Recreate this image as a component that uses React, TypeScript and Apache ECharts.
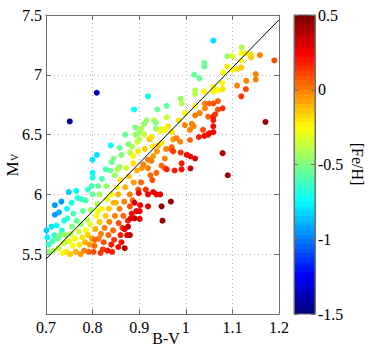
import React, { useEffect, useRef } from 'react';
import * as echarts from 'echarts';

// [B-V, M_V, [Fe/H]], grouped by B-V range
const starsA = [
  [0.701,5.70,-0.85],[0.703,5.64,-0.75],[0.706,5.58,-0.65],[0.708,5.52,-0.5],[0.712,5.73,-0.8],[0.714,5.61,-0.6],[0.716,5.53,-0.4],[0.718,5.66,-0.65],[0.719,5.83,-0.95],[0.719,5.91,-0.95],
  [0.723,5.74,-0.75],[0.725,5.63,-0.55],[0.727,5.55,-0.35],[0.728,5.85,-0.9],[0.733,5.94,-0.95],[0.734,5.70,-0.65],[0.736,5.51,-0.25],[0.738,5.59,-0.35],[0.739,5.78,-0.7],[0.731,5.66,-0.5],
  [0.742,5.66,-0.45],[0.744,5.52,-0.2],[0.746,5.80,-0.65],[0.749,6.02,-0.85],[0.745,5.88,-0.75],[0.741,5.60,-0.35],
];
const starsB = [
  [0.750,5.61,-0.3],[0.752,5.50,-0.15],[0.755,5.93,-0.7],[0.756,5.73,-0.5],[0.758,5.57,-0.25],[0.759,5.84,-0.6],[0.753,5.67,-0.4],[0.751,6.61,-1.45],
  [0.762,5.63,-0.25],[0.764,5.52,-0.1],[0.766,5.78,-0.55],[0.768,5.97,-0.7],[0.770,5.69,-0.35],[0.772,5.58,-0.2],[0.774,5.50,-0.05],[0.776,5.96,-0.65],[0.778,5.64,-0.2],[0.765,6.03,-0.75],[0.775,5.75,-0.45],[0.779,5.86,-0.55],
  [0.782,5.53,0.0],[0.784,5.60,-0.1],[0.786,5.70,-0.25],[0.788,5.79,-0.4],[0.790,5.66,-0.15],[0.792,5.52,0.05],[0.794,5.58,-0.05],[0.796,5.87,-0.45],[0.798,6.07,-0.6],[0.785,5.95,-0.6],[0.790,6.04,-0.65],[0.795,5.75,-0.3],[0.799,5.63,-0.05],
];
const starsC = [
  [0.800,6.14,-0.7],[0.800,6.18,-0.75],[0.800,6.29,-0.8],[0.800,6.00,-0.55],
  [0.802,5.52,0.1],[0.804,5.57,0.05],[0.806,5.71,-0.1],[0.808,5.82,-0.25],[0.810,5.92,-0.4],[0.812,6.07,-0.55],[0.813,5.63,0.0],[0.815,5.77,-0.15],[0.817,5.51,0.15],[0.818,5.67,0.0],[0.820,5.88,-0.25],[0.820,6.13,-0.6],[0.815,6.00,-0.45],[0.809,6.33,-0.8],[0.809,6.85,-1.4],[0.805,5.62,0.05],[0.811,5.86,-0.3],
  [0.822,5.54,0.15],[0.824,5.60,0.1],[0.826,5.72,0.0],[0.828,5.82,-0.15],[0.830,6.07,-0.45],[0.831,5.96,-0.3],[0.832,5.53,0.2],[0.834,5.66,0.05],[0.836,5.77,0.0],[0.838,6.20,-0.55],[0.839,6.41,-0.75],[0.840,5.58,0.2],[0.835,5.88,-0.15],[0.828,6.21,-0.6],[0.840,6.00,-0.25],[0.841,6.27,-0.55],
  [0.842,5.52,0.2],[0.844,5.70,0.05],[0.846,5.62,0.15],[0.848,5.82,0.0],[0.848,6.16,-0.45],[0.845,5.93,-0.1],
];
const starsD = [
  [0.850,5.93,-0.1],[0.852,6.06,-0.25],[0.853,6.21,-0.4],[0.855,5.56,0.25],[0.856,5.76,0.1],[0.858,6.39,-0.55],[0.860,5.66,0.2],[0.860,6.12,-0.2],[0.845,6.30,-0.5],[0.858,5.88,0.0],[0.855,6.00,-0.1],[0.862,6.33,-0.5],[0.858,6.23,-0.45],
  [0.862,5.60,0.25],[0.864,5.72,0.15],[0.866,5.82,0.05],[0.868,5.94,0.0],[0.870,6.06,-0.1],[0.869,5.55,0.4],[0.872,6.22,-0.35],[0.874,5.66,0.25],[0.876,5.78,0.2],[0.877,6.42,-0.5],[0.878,6.15,-0.15],[0.880,5.90,0.1],[0.880,6.35,-0.4],[0.870,6.50,-0.55],[0.880,6.00,0.0],[0.876,5.73,0.35],[0.880,5.66,0.4],[0.869,5.71,0.3],
  [0.882,5.80,0.3],[0.884,5.84,0.25],[0.886,5.95,0.05],[0.888,6.10,-0.05],[0.889,6.71,-0.75],[0.887,6.32,-0.25],[0.887,6.26,-0.2],[0.892,6.50,-0.45],[0.894,5.86,0.3],[0.895,6.20,-0.1],[0.896,6.44,-0.35],[0.898,6.04,0.1],[0.885,6.40,-0.4],[0.890,5.93,0.35],[0.892,6.56,-0.5],[0.898,6.36,-0.2],[0.899,6.01,0.25],[0.890,5.80,0.35],
];
const starsE = [
  [0.900,6.52,-0.45],[0.900,6.46,-0.4],[0.901,5.86,0.3],[0.901,5.795,0.3],[0.902,5.91,0.25],[0.904,6.10,0.05],[0.906,6.22,-0.05],[0.909,6.25,0.0],[0.911,6.59,-0.45],[0.911,6.50,-0.35],[0.912,6.38,-0.15],[0.914,6.04,0.15],[0.916,6.62,-0.45],[0.919,6.82,-0.75],[0.919,6.29,0.0],[0.919,6.22,0.0],[0.919,6.00,0.3],[0.919,5.90,0.3],[0.905,6.55,-0.4],
  [0.922,6.46,-0.15],[0.924,6.16,0.05],[0.926,6.28,0.0],[0.927,6.48,-0.2],[0.928,6.12,0.1],[0.930,6.40,-0.2],[0.930,6.32,-0.05],[0.930,6.02,0.3],[0.932,6.62,-0.4],[0.936,6.60,-0.5],[0.936,6.55,-0.45],[0.937,6.00,0.3],[0.937,6.18,0.05],[0.939,6.71,-0.55],[0.938,6.36,-0.05],[0.941,6.41,-0.1],[0.945,6.00,0.3],[0.945,6.53,-0.25],[0.948,6.43,-0.2],[0.948,6.24,0.05],[0.948,5.90,0.45],[0.948,6.545,-0.3],
];
const starsF = [
  [0.950,5.78,0.45],[0.955,6.54,-0.25],[0.955,6.22,0.05],[0.955,6.30,0.0],[0.959,6.645,-0.35],[0.959,6.74,-0.55],[0.959,6.21,0.2],[0.958,6.38,0.0],[0.962,6.57,-0.2],[0.968,6.38,0.05],[0.968,5.94,0.45],[0.970,6.52,-0.2],[0.970,6.395,0.05],
  [0.973,6.46,-0.05],[0.973,6.36,0.15],[0.976,6.20,0.2],[0.988,6.44,0.0],[0.989,6.35,0.15],[0.989,6.80,-0.45],[0.991,6.76,-0.4],[0.991,6.26,0.2],[0.991,6.21,0.25],[0.998,6.68,-0.25],[0.998,6.58,0.0],[0.985,6.62,-0.2],[0.980,6.47,0.0],
];
const starsG = [
  [1.002,6.33,0.25],[1.009,6.54,0.0],[1.009,6.455,0.05],[1.010,6.317,0.25],[1.010,6.217,0.35],[1.013,6.59,0.0],[1.020,6.30,0.3],[1.020,6.66,0.0],[1.017,6.57,0.0],[1.020,6.74,-0.25],[1.020,6.87,-0.4],[1.020,6.84,-0.4],[1.018,7.00,-0.55],
  [1.029,6.97,-0.55],[1.030,6.68,0.0],[1.028,6.48,0.2],[1.037,6.54,0.1],[1.039,6.86,-0.25],[1.040,7.10,-0.55],[1.040,7.07,-0.55],[1.041,6.76,0.0],[1.041,6.72,0.0],[1.040,6.49,0.25],[1.048,6.50,0.2],[1.048,6.65,0.05],[1.050,6.51,0.25],
];
const starsH = [
  [1.050,6.76,0.05],[1.059,6.52,0.25],[1.059,6.65,0.2],[1.059,6.62,0.2],[1.059,6.57,0.25],[1.059,6.76,0.1],[1.059,6.90,-0.25],[1.059,6.86,-0.25],[1.059,7.285,-0.8],[1.063,6.67,0.15],[1.069,6.71,0.1],[1.069,6.87,-0.25],[1.069,6.78,0.05],
  [1.078,6.93,-0.25],[1.079,6.72,0.15],[1.079,6.88,-0.2],[1.080,7.02,-0.25],[1.079,6.345,0.4],[1.089,7.155,-0.45],[1.089,7.07,-0.25],[1.090,6.16,0.45],[1.100,7.155,-0.3],[1.100,7.04,-0.25],[1.109,7.05,-0.2],[1.110,6.91,0.0],
  [1.119,7.06,-0.15],[1.119,7.12,-0.25],[1.119,6.82,0.15],[1.120,7.23,-0.4],[1.120,7.18,-0.25],[1.129,6.88,0.1],[1.130,7.18,-0.25],[1.130,6.95,0.0],[1.140,7.17,-0.2],[1.140,7.145,-0.15],[1.150,7.006,0.0],[1.150,6.96,0.0],[1.159,7.165,0.0],[1.171,6.606,0.45],[1.190,7.12,0.1],
];

// reference line endpoints [B-V, M_V]
const fitLine = [[0.7, 5.46], [1.2, 7.46]];

const bvTicks = [0.7, 0.8, 0.9, 1.0, 1.1, 1.2];
const mvTicks = [5.0, 5.5, 6.0, 6.5, 7.0, 7.5];
const fehTicks = [-1.5, -1.0, -0.5, 0.0, 0.5];

const FONT = '"Liberation Serif", "Times New Roman", serif';
const AXIS_COLOR = '#6e6e6e';

function clamp(v: number) { return Math.max(0, Math.min(1, v)); }
function jet(t: number) {
  const r = clamp(1.5 - Math.abs(4 * t - 3));
  const g = clamp(1.5 - Math.abs(4 * t - 2));
  const b = clamp(1.5 - Math.abs(4 * t - 1));
  const h = (x: number) => Math.round(x * 255).toString(16).padStart(2, '0');
  return '#' + h(r) + h(g) + h(b);
}
const N = 64;
const jetColors: string[] = [];
for (let i = 0; i < N; i++) jetColors.push(jet(i / (N - 1)));
const barStops: { offset: number; color: string }[] = [];
for (let i = 0; i < N; i++) {
  barStops.push({ offset: i / N, color: jetColors[i] });
  barStops.push({ offset: (i + 1) / N, color: jetColors[i] });
}

export default function App() {
  const ref = useRef<HTMLDivElement>(null);
  useEffect(() => {
    const chart = echarts.init(ref.current!, null, { renderer: 'svg' });
    const stars = [...starsA, ...starsB, ...starsC, ...starsD, ...starsE, ...starsF, ...starsG, ...starsH];
    const axisLine = { show: true, onZero: false, lineStyle: { color: AXIS_COLOR, width: 1 } };
    const tick = { show: true, inside: true, length: 5, lineStyle: { color: AXIS_COLOR } };
    const grid = { show: true, lineStyle: { color: '#b4b4b4', type: [1, 3], width: 1 } };
    const labelStyle = { color: '#000', fontFamily: FONT, fontSize: 16 };
    const bvMin = bvTicks[0], bvMax = bvTicks[bvTicks.length - 1];
    const mvMin = mvTicks[0], mvMax = mvTicks[mvTicks.length - 1];
    const fMin = fehTicks[0], fMax = fehTicks[fehTicks.length - 1];
    const option: any = {
      animation: false,
      backgroundColor: '#ffffff',
      grid: [
        { left: 46, top: 15, width: 233, height: 299 },
        { left: 294, top: 15, width: 21, height: 299 },
      ],
      xAxis: [
        { gridIndex: 0, type: 'value', min: bvMin, max: bvMax, interval: 0.1, position: 'bottom', axisLine, axisTick: tick,
          axisLabel: { ...labelStyle, margin: 5, formatter: (v: number) => String(+v.toFixed(2)) }, splitLine: grid },
        { gridIndex: 0, type: 'value', min: bvMin, max: bvMax, interval: 0.1, position: 'top', axisLine, axisTick: tick,
          axisLabel: { show: false }, splitLine: { show: false } },
        { gridIndex: 1, type: 'value', min: 0, max: 1, show: false },
      ],
      yAxis: [
        { gridIndex: 0, type: 'value', min: mvMin, max: mvMax, interval: 0.5, position: 'left', axisLine, axisTick: tick,
          axisLabel: { ...labelStyle, margin: 4, formatter: (v: number) => (Math.abs(v - mvMin) < 1e-9 ? '' : String(+v.toFixed(2))) }, splitLine: grid },
        { gridIndex: 0, type: 'value', min: mvMin, max: mvMax, interval: 0.5, position: 'right', axisLine, axisTick: tick,
          axisLabel: { show: false }, splitLine: { show: false } },
        { gridIndex: 1, type: 'value', min: fMin, max: fMax, interval: 0.5, position: 'right', z: 10, axisLine, axisTick: { ...tick, length: 4 },
          axisLabel: { ...labelStyle, margin: 3, formatter: (v: number) => String(+v.toFixed(2)) }, splitLine: { show: false } },
        { gridIndex: 1, type: 'value', min: fMin, max: fMax, interval: 0.5, position: 'left', z: 10, axisLine, axisTick: { ...tick, length: 4 },
          axisLabel: { show: false }, splitLine: { show: false } },
      ],
      visualMap: {
        type: 'continuous', show: false, seriesIndex: 0, dimension: 2, min: fMin, max: fMax,
        inRange: { color: jetColors },
      },
      series: [
        { type: 'scatter', xAxisIndex: 0, yAxisIndex: 0, symbol: 'circle', symbolSize: 6, data: stars, itemStyle: { opacity: 1 } },
        { type: 'line', xAxisIndex: 0, yAxisIndex: 0, data: fitLine, symbol: 'none', lineStyle: { color: '#000', width: 1 }, z: 5 },
      ],
      graphic: [
        { type: 'rect', z: 1, shape: { x: 294, y: 15, width: 21, height: 299 },
          style: { fill: { type: 'linear', x: 0, y: 1, x2: 0, y2: 0, colorStops: barStops }, stroke: AXIS_COLOR, lineWidth: 1 } },
        { type: 'text', x: 166, y: 338, style: { text: 'B-V', fontFamily: FONT, fontSize: 16, fill: '#000', align: 'center', verticalAlign: 'middle' } },
        { type: 'text', x: 12, y: 169, rotation: Math.PI / 2, style: { text: 'M', fontFamily: FONT, fontSize: 17, fill: '#000', align: 'center', verticalAlign: 'middle' } },
        { type: 'text', x: 14.5, y: 157.5, rotation: Math.PI / 2, style: { text: 'V', fontFamily: FONT, fontSize: 10, fill: '#000', align: 'center', verticalAlign: 'middle' } },
        { type: 'text', x: 357, y: 164, rotation: -Math.PI / 2, style: { text: '[Fe/H]', fontFamily: FONT, fontSize: 16, fill: '#000', align: 'center', verticalAlign: 'middle' } },
      ],
    };
    chart.setOption(option);
    return () => chart.dispose();
  }, []);
  return <div ref={ref} style={{ position: 'absolute', left: 0, top: 0, width: 374, height: 354 }} />;
}
